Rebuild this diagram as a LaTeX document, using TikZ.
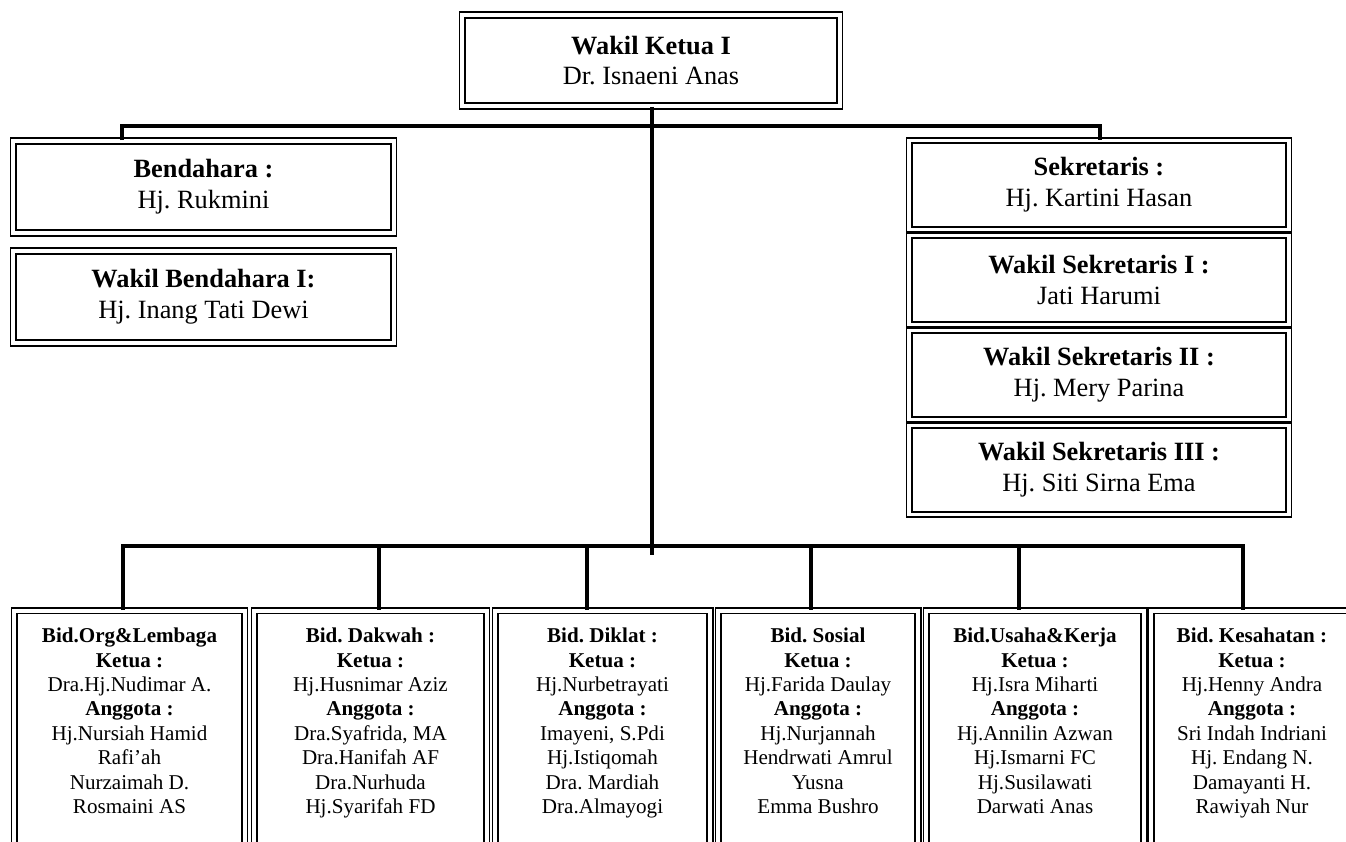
\documentclass[tikz,border=0pt]{standalone}
\usepackage{fontspec}
\setmainfont{Liberation Serif}
\frenchspacing
\begin{document}
\begin{tikzpicture}[x=0.02cm, y=-0.02cm,
    box/.style={draw, double, line width=1.1pt, double distance=1.8pt,
      align=center, inner sep=0pt, font=\fontsize{15}{17.5}\selectfont},
    bidbox/.style={draw, double, line width=1.1pt, double distance=1.8pt,
      anchor=north, inner xsep=0pt, inner ysep=0.34cm,
      font=\fontsize{12}{13.9}\selectfont},
    conn/.style={line width=2.2pt}]
  \useasboundingbox (0,0) rectangle (1346,842);
  \clip (0,0) rectangle (1346,842);

  % 上层
  \node[box, minimum width=7.56cm, minimum height=1.82cm] (top) at (651,60.5)
    {\textbf{Wakil Ketua I}\\Dr. Isnaeni Anas};
  \node[box, minimum width=7.62cm, minimum height=1.84cm] (bend) at (203.5,187)
    {\textbf{Bendahara :}\\Hj. Rukmini};
  \node[box, minimum width=7.62cm, minimum height=1.84cm] (wbend) at (203.5,297)
    {\textbf{Wakil Bendahara I:}\\Hj. Inang Tati Dewi};
  \node[box, minimum width=7.6cm, minimum height=1.78cm] (sek1) at (1099,185)
    {\textbf{Sekretaris :}\\Hj. Kartini Hasan};
  \node[box, minimum width=7.6cm, minimum height=1.78cm] (sek2) at (1099,280)
    {\textbf{Wakil Sekretaris I :}\\Jati Harumi};
  \node[box, minimum width=7.6cm, minimum height=1.78cm] (sek3) at (1099,375)
    {\textbf{Wakil Sekretaris II :}\\Hj. Mery Parina};
  \node[box, minimum width=7.6cm, minimum height=1.78cm] (sek4) at (1099,470)
    {\textbf{Wakil Sekretaris III :}\\Hj. Siti Sirna Ema};

  % 各bidang
  \node[bidbox, minimum width=4.62cm] (b1) at (129.5,610)
    {\parbox[t][4.8cm][t]{4.5cm}{\centering\textbf{Bid.Org\&Lembaga}\\\textbf{Ketua :}\\Dra.Hj.Nudimar A.\\\textbf{Anggota :}\\Hj.Nursiah Hamid\\Rafi’ah\\Nurzaimah D.\\Rosmaini AS}};
  \node[bidbox, minimum width=4.66cm] (b2) at (370.5,610)
    {\parbox[t][4.8cm][t]{4.5cm}{\centering\textbf{Bid. Dakwah :}\\\textbf{Ketua :}\\Hj.Husnimar Aziz\\\textbf{Anggota :}\\Dra.Syafrida, MA\\Dra.Hanifah AF\\Dra.Nurhuda\\Hj.Syarifah FD}};
  \node[bidbox, minimum width=4.30cm] (b3) at (602.5,610)
    {\parbox[t][4.8cm][t]{4.2cm}{\centering\textbf{Bid. Diklat :}\\\textbf{Ketua :}\\Hj.Nurbetrayati\\\textbf{Anggota :}\\Imayeni, S.Pdi\\Hj.Istiqomah\\Dra. Mardiah\\Dra.Almayogi}};
  \node[bidbox, minimum width=4.00cm] (b4) at (818,610)
    {\parbox[t][4.8cm][t]{3.9cm}{\centering\textbf{Bid. Sosial}\\\textbf{Ketua :}\\Hj.Farida Daulay\\\textbf{Anggota :}\\Hj.Nurjannah\\Hendrwati Amrul\\Yusna\\Emma Bushro}};
  \node[bidbox, minimum width=4.36cm] (b5) at (1035,610)
    {\parbox[t][4.8cm][t]{4.2cm}{\centering\textbf{Bid.Usaha\&Kerja}\\\textbf{Ketua :}\\Hj.Isra Miharti\\\textbf{Anggota :}\\Hj.Annilin Azwan\\Hj.Ismarni FC\\Hj.Susilawati\\Darwati Anas}};
  \node[bidbox, minimum width=4.04cm] (b6) at (1252,610)
    {\parbox[t][4.8cm][t]{3.9cm}{\centering\textbf{Bid. Kesahatan :}\\\textbf{Ketua :}\\Hj.Henny Andra\\\textbf{Anggota :}\\Sri Indah Indriani\\Hj. Endang N.\\Damayanti H.\\Rawiyah Nur}};

  % 连线
  \coordinate (upL) at (122,126);
  \coordinate (upR) at (1100,126);
  \coordinate (lowL) at (123,546);
  \coordinate (lowR) at (1243,546);
  \coordinate (stem) at (652,555);
  \draw[conn] (top.south -| stem) -- (stem);
  \draw[conn] (bend.north -| upL) -- (upL) -- (upR) -- (sek1.north -| upR);
  \draw[conn] (b1.north -| lowL) -- (lowL) -- (lowR) -- (b6.north -| lowR);
  \foreach \n/\x in {2/379,3/587,4/811,5/1019}
  \draw[conn] (\x,546) -- (b\n.north -| \x,546);
\end{tikzpicture}
\end{document}
